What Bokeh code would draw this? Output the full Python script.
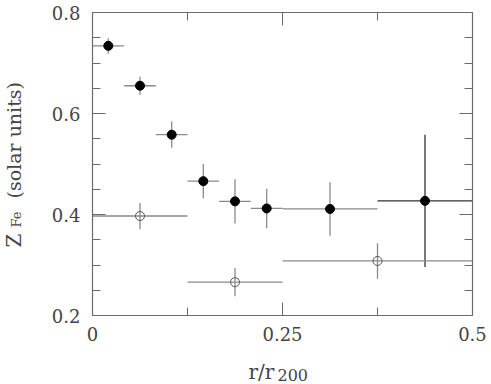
import numpy as np
from bokeh.plotting import figure
from bokeh.models import (ColumnDataSource, LinearAxis, Range1d, FixedTicker,
                          Label, NumeralTickFormatter)
from bokeh.embed import file_html
from bokeh.resources import INLINE

# ---- data ----
r_fill = [0.0208, 0.0625, 0.1042, 0.1458, 0.1875, 0.2292, 0.3125, 0.4375]
r_fill_lo = [0.0, 0.0417, 0.0833, 0.125, 0.1667, 0.2083, 0.25, 0.375]
r_fill_hi = [0.0417, 0.0833, 0.125, 0.1667, 0.2083, 0.25, 0.375, 0.5]
z_fill = [0.734, 0.655, 0.558, 0.466, 0.426, 0.412, 0.411, 0.427]
z_fill_err = [0.015, 0.018, 0.026, 0.034, 0.044, 0.039, 0.053, 0.131]

r_open = [0.0625, 0.1875, 0.375]
r_open_lo = [0.0, 0.125, 0.25]
r_open_hi = [0.125, 0.25, 0.5]
z_open = [0.397, 0.266, 0.308]
z_open_err = [0.026, 0.028, 0.035]

x_lim = (0.0, 0.5)
y_lim = (0.2, 0.8)
x_ticks = [0, 0.25, 0.5]
x_minor = [0.125, 0.375]
x_tick_labels = {0: "0", 0.25: "0.25", 0.5: "0.5"}
y_ticks = [0.2, 0.4, 0.6, 0.8]
y_minor = [0.25, 0.3, 0.35, 0.45, 0.5, 0.55, 0.65, 0.7, 0.75]

# ---- layout (pixels) ----
W, H = 491, 384
FL, FR, FT, FB = 92, 472, 12, 315   # visible box edges

FONT = "DejaVu Serif"
AX = "#6a6a6a"
TXT = "#444444"
BAR = "#8a8a8a"

xpp = (x_lim[1] - x_lim[0]) / (FR - FL)
ypp = (y_lim[1] - y_lim[0]) / (FB - FT)
x_range = Range1d(x_lim[0] - FL * xpp, x_lim[1] + (W - FR) * xpp)
y_range = Range1d(y_lim[0] - (H - FB) * ypp, y_lim[1] + FT * ypp)

p = figure(width=W, height=H, output_backend="svg", toolbar_location=None,
           x_range=x_range, y_range=y_range,
           min_border_left=0, min_border_right=0, min_border_top=0,
           min_border_bottom=0, x_axis_location=None, y_axis_location=None)
p.grid.visible = False
p.outline_line_color = None
p.background_fill_color = "white"
p.border_fill_color = "white"


def style(ax, ticks, show_labels, overrides=None):
    ax.axis_line_color = AX
    ax.axis_line_width = 1.2
    ax.major_tick_line_color = AX
    ax.minor_tick_line_color = AX
    ax.major_tick_in = 13
    ax.major_tick_out = 0
    ax.minor_tick_in = 8
    ax.minor_tick_out = 0
    ax.major_label_text_font = FONT
    ax.major_label_text_color = TXT
    ax.major_label_text_font_size = "18px"
    if show_labels:
        if overrides:
            ax.major_label_overrides = overrides
    else:
        ax.major_label_overrides = {t: "" for t in ticks}
        ax.major_label_standoff = 0


for loc, fixed in [("below", y_lim[0]), ("above", y_lim[1])]:
    ax = LinearAxis(ticker=FixedTicker(ticks=x_ticks, minor_ticks=x_minor),
                    fixed_location=fixed, bounds=x_lim)
    style(ax, x_ticks, loc == "below", x_tick_labels)
    if loc == "below":
        ax.major_label_standoff = 11
    p.add_layout(ax, loc)

for loc, fixed in [("left", x_lim[0]), ("right", x_lim[1])]:
    ax = LinearAxis(ticker=FixedTicker(ticks=y_ticks, minor_ticks=y_minor),
                    fixed_location=fixed, bounds=y_lim)
    ax.formatter = NumeralTickFormatter(format="0.0")
    style(ax, y_ticks, loc == "left")
    if loc == "left":
        ax.major_label_standoff = 12
    p.add_layout(ax, loc)

# ---- filled points ----
colors = [BAR] * (len(r_fill) - 1) + ["#303030"]
src_f = ColumnDataSource(dict(
    x=r_fill, y=z_fill, xlo=r_fill_lo, xhi=r_fill_hi,
    ylo=[z - e for z, e in zip(z_fill, z_fill_err)],
    yhi=[z + e for z, e in zip(z_fill, z_fill_err)], c=colors))
p.segment(x0="xlo", x1="xhi", y0="y", y1="y", source=src_f, line_color="c", line_width=1.3)
p.segment(x0="x", x1="x", y0="ylo", y1="yhi", source=src_f, line_color="c", line_width=1.3)
p.scatter(x="x", y="y", source=src_f, size=9, fill_color="black", line_color="black")

# ---- open points ----
src_o = ColumnDataSource(dict(
    x=r_open, y=z_open, xlo=r_open_lo, xhi=r_open_hi,
    ylo=[z - e for z, e in zip(z_open, z_open_err)],
    yhi=[z + e for z, e in zip(z_open, z_open_err)]))
p.segment(x0="xlo", x1="xhi", y0="y", y1="y", source=src_o, line_color=BAR, line_width=1.3)
p.segment(x0="x", x1="x", y0="ylo", y1="yhi", source=src_o, line_color=BAR, line_width=1.3)
p.scatter(x="x", y="y", source=src_o, size=9, fill_color=None, line_color="#555555", line_width=1)


# ---- axis titles (screen units: x from left, y from bottom of canvas) ----
def lab(text, x, y, size, angle=0.0):
    p.add_layout(Label(x=x, y=H - y, x_units="screen", y_units="screen", text=text,
                       text_font=FONT, text_font_size=size, text_color=TXT,
                       angle=angle, text_align="left", text_baseline="alphabetic"))


lab("r/r", 248, 371, "20px")
lab("200", 277, 374, "16px")
lab("Z", 13, 247, "20px", np.pi / 2)
lab("Fe", 16, 227, "13px", np.pi / 2)
lab("(solar units)", 13, 198, "19px", np.pi / 2)

open("out.html", "w").write(file_html(p, INLINE))
